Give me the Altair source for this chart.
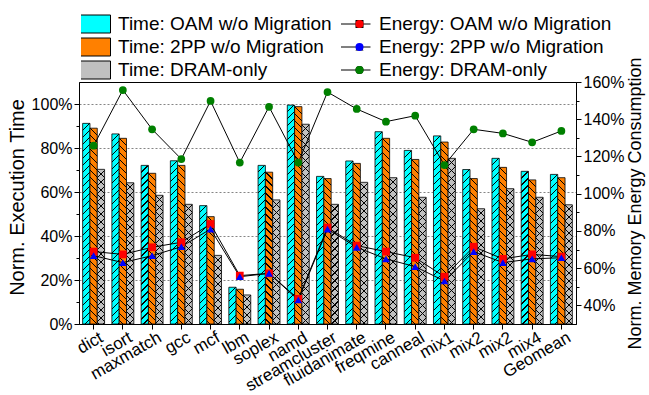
import altair as alt

FONT = "Liberation Sans"

categories = ["dict", "isort", "maxmatch", "gcc", "mcf", "lbm", "soplex", "namd",
              "streamcluster", "fluidanimate", "freqmine", "canneal", "mix1", "mix2",
              "mix2", "mix4", "Geomean"]

time_series = ["Time: OAM w/o Migration", "Time: 2PP w/o Migration", "Time: DRAM-only"]
energy_series = ["Energy: OAM w/o Migration", "Energy: 2PP w/o Migration", "Energy: DRAM-only"]

time_oam = [91.2, 86.4, 72.1, 74.2, 53.8, 16.7, 72.1, 99.5, 67.1, 74.1, 87.4, 78.9, 85.5, 70.2, 75.3, 69.4, 68.0]
time_2pp = [89.0, 84.4, 68.5, 72.1, 48.8, 15.8, 69.0, 98.8, 66.1, 73.0, 84.4, 74.8, 82.7, 66.1, 71.2, 65.5, 66.5]
time_dram = [70.3, 64.2, 58.5, 54.4, 31.2, 13.2, 56.4, 90.8, 54.4, 64.4, 66.5, 57.6, 75.3, 52.4, 61.5, 57.6, 54.2]

energy_oam = [68.9, 67.4, 71.2, 73.9, 83.7, 56.0, 57.2, 43.5, 81.8, 72.1, 68.9, 65.6, 55.4, 71.5, 65.0, 67.4, 66.2]
energy_2pp = [66.7, 63.0, 66.7, 71.5, 81.0, 55.4, 57.2, 42.9, 81.0, 71.2, 65.0, 60.8, 53.1, 68.9, 63.0, 65.0, 65.6]
energy_dram = [125.8, 155.7, 134.6, 118.6, 149.8, 116.7, 146.7, 116.7, 154.6, 145.5, 138.7, 141.9, 115.4, 134.6, 132.4, 127.6, 133.7]

left_ticks = [0, 10, 20, 30, 40, 50, 60, 70, 80, 90, 100]
right_ticks = [40, 50, 60, 70, 80, 90, 100, 110, 120, 130, 140, 150, 160]

time_colors = ["#00FFFF", "#FF8000", "#C0C0C0"]
energy_colors = ["#FF0000", "#0000FF", "#008000"]
energy_shapes = ["square", "triangle-up", "circle"]

# plot-area geometry (used for the chart size and for hatch spacing)
PLOT_W, PLOT_H = 497, 242
Y_MAX = 110
N = len(categories)
STEP = PLOT_W / (N - 0.25 + 2 * 0.125)
BAR_W = STEP * 0.75 / 3


def hatch(base, value, direction, period=7.0, thick=1.1):
    """Linear-gradient fill that draws diagonal hatch lines inside one bar."""
    w = BAR_W
    h = max(value / Y_MAX * PLOT_H, 1.0)
    L = w + h
    den = w * w + h * h
    gx = L * w / den
    gy = L * h / den
    if direction == "/":
        x1, y1, x2, y2 = 0, 0, gx, gy
    else:
        x1, y1, x2, y2 = 1, 0, 1 - gx, gy
    stops = [{"offset": 0, "color": base}]
    k = 1
    while True:
        t0 = (k * period - thick / 2) / L
        t1 = (k * period + thick / 2) / L
        if t0 >= 1:
            break
        t1 = min(t1, 1)
        stops += [{"offset": round(t0, 5), "color": base},
                  {"offset": round(t0, 5), "color": "#000000"},
                  {"offset": round(t1, 5), "color": "#000000"},
                  {"offset": round(t1, 5), "color": base}]
        k += 1
    stops.append({"offset": 1, "color": base})
    return {"gradient": "linear", "x1": x1, "y1": y1, "x2": round(x2, 5), "y2": round(y2, 5),
            "stops": stops}


directions = ["/", "\\", "/"]
rows_t = []
for i in range(N):
    for j, (s, vals) in enumerate(zip(time_series, [time_oam, time_2pp, time_dram])):
        row = {"idx": i, "series": s, "value": vals[i],
               "grad": hatch(time_colors[j], vals[i], directions[j],
                             period=7.0 if j < 2 else 8.0)}
        if j == 2:
            row["grad2"] = hatch("rgba(0,0,0,0)", vals[i], "\\", period=8.0)
        rows_t.append(row)

rows_e = []
for i in range(N):
    for s, vals in zip(energy_series, [energy_oam, energy_2pp, energy_dram]):
        rows_e.append({"idx": i, "series": s, "series_l": s, "value": vals[i]})

label_expr = "[" + ",".join("'" + c + "'" for c in categories) + "][datum.value]"

x_enc = alt.X(
    "idx:O",
    scale=alt.Scale(paddingInner=0.25, paddingOuter=0.125),
    axis=alt.Axis(labelExpr=label_expr, labelAngle=-30, labelAlign="right", labelBaseline="top",
                  labelFontSize=17, labelFont=FONT, labelColor="black", labelPadding=0,
                  labelOffset=4, tickSize=5, tickColor="black", domainColor="black",
                  grid=False, title=None),
)
xoff = alt.XOffset("series:N", sort=time_series,
                   scale=alt.Scale(domain=time_series, paddingInner=0, paddingOuter=0))

major = "datum.value % 20 == 0"

y_t = alt.Y("value:Q",
            scale=alt.Scale(domain=[0, Y_MAX], nice=False, zero=True),
            axis=alt.Axis(values=left_ticks,
                          labelExpr="datum.value % 20 == 0 ? datum.value + '%' : ''",
                          labelFontSize=16, labelFont=FONT, labelColor="black", labelPadding=2,
                          tickSize={"condition": {"test": major, "value": 5}, "value": 3},
                          tickColor="black", domainColor="black",
                          grid=True, gridDash=[2, 2], gridColor="#666666", gridWidth=0.8,
                          gridOpacity={"condition": {"test": major, "value": 1}, "value": 0},
                          title="Norm. Execution Time", titleFontSize=20, titleFont=FONT,
                          titleFontWeight="normal", titleColor="black", titlePadding=4,
                          titleY=115))

legend_common = dict(title=None, orient="none", legendY=-68, symbolSize=64, labelFontSize=19,
                     labelFont=FONT, labelColor="black", labelLimit=400, clipHeight=20,
                     rowPadding=3, padding=0)

data_t = alt.Data(values=rows_t)
data_e = alt.Data(values=rows_e)

bars = alt.Chart(data_t).mark_bar(stroke="black", strokeWidth=0.8).encode(
    x=x_enc,
    xOffset=xoff,
    y=y_t,
    fill=alt.Fill("grad:N", scale=None),
)

cross = alt.Chart(data_t).transform_filter(
    alt.datum.series == time_series[2]
).mark_bar(strokeWidth=0).encode(
    x=x_enc,
    xOffset=xoff,
    y=y_t,
    fill=alt.Fill("grad2:N", scale=None),
)

# invisible bars that only carry the legend of the time series
time_key = alt.Chart(data_t).mark_bar(opacity=0).encode(
    x=x_enc,
    xOffset=xoff,
    y=y_t,
    color=alt.Color("series:N", sort=time_series,
                    scale=alt.Scale(domain=time_series, range=time_colors),
                    legend=alt.Legend(legendX=2, symbolType="M-5,-2.25H5V2.25H-5Z",
                                      symbolStrokeColor="black", symbolStrokeWidth=1,
                                      symbolOpacity=1, labelOffset=18, **legend_common)),
)

y_e = alt.Y("value:Q",
            scale=alt.Scale(domain=[30, 160], nice=False, zero=False),
            axis=alt.Axis(orient="right", values=right_ticks,
                          labelExpr="datum.value % 20 == 0 ? datum.value + '%' : ''",
                          labelFontSize=16, labelFont=FONT,
                          labelColor="black", labelPadding=2,
                          tickSize={"condition": {"test": major, "value": 5}, "value": 3},
                          tickColor="black", domainColor="black", grid=False,
                          title="Norm. Memory Energy Consumption", titleFontSize=18,
                          titleFont=FONT, titleFontWeight="normal", titleColor="black",
                          titleAngle=270, titleBaseline="top", titlePadding=3))

lines = alt.Chart(data_e).mark_line(strokeWidth=1).encode(
    x=x_enc,
    y=y_e,
    stroke=alt.Stroke("series_l:N", sort=energy_series,
                      scale=alt.Scale(range=["black", "black", "black"]),
                      legend=alt.Legend(legendX=262, symbolType="M-5,0H5", symbolStrokeWidth=1,
                                        labelOffset=19, **legend_common)),
)

marker_legend = alt.Legend(legendX=271, symbolStrokeWidth=0, symbolOpacity=1, labelOpacity=0,
                           labelExpr="''", labelOffset=19, **legend_common)

points = alt.Chart(data_e).mark_point(filled=True, opacity=1, size=60).encode(
    x=x_enc,
    y=y_e,
    color=alt.Color("series:N", sort=energy_series,
                    scale=alt.Scale(domain=energy_series, range=energy_colors),
                    legend=marker_legend),
    shape=alt.Shape("series:N", sort=energy_series,
                    scale=alt.Scale(domain=energy_series, range=energy_shapes),
                    legend=marker_legend),
)

time_layer = alt.layer(bars, cross, time_key)
energy = alt.layer(lines, points)

chart = alt.layer(time_layer, energy).resolve_scale(
    y="independent", color="independent"
).properties(
    width=PLOT_W, height=PLOT_H,
    autosize=alt.AutoSizeParams(type="none"),
    padding={"left": 79, "top": 82, "right": 73, "bottom": 71},
    background="white",
).configure_view(stroke="black", strokeWidth=1)

chart.save("out.html", embed_options={"renderer": "svg", "actions": False})
